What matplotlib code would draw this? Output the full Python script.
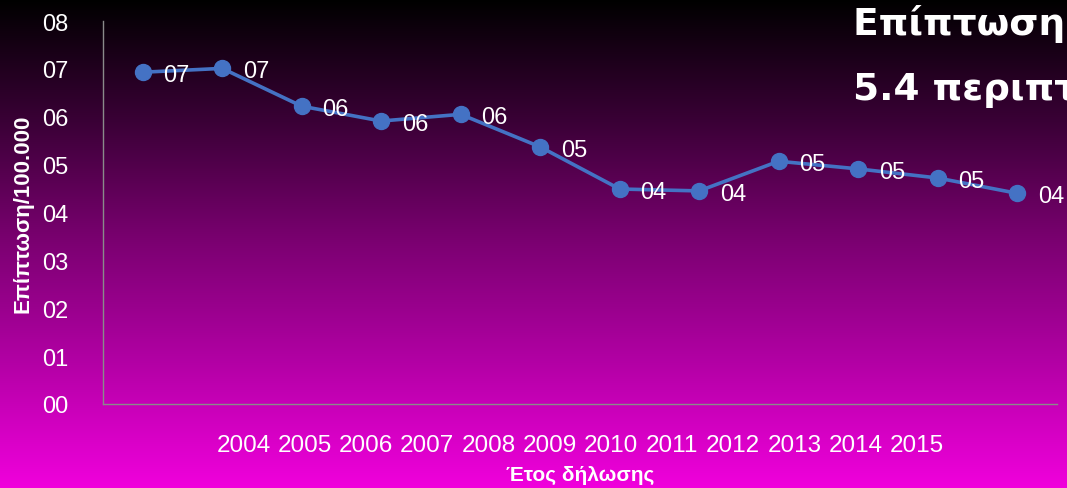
import matplotlib.pyplot as plt
import numpy as np
from matplotlib.colors import LinearSegmentedColormap

# Δεδομένα
years = [2004, 2005, 2006, 2007, 2008, 2009, 2010, 2011, 2012, 2013, 2014, 2015]
incidence = [6.93, 7.01, 6.22, 5.91, 6.05, 5.37, 4.49, 4.45, 5.07, 4.91, 4.72, 4.40]
y_ticks = [0, 1, 2, 3, 4, 5, 6, 7, 8]

plt.rcParams['font.family'] = ['Liberation Sans', 'DejaVu Sans']

fig = plt.figure(figsize=(10.67, 4.89), dpi=100)

# φόντο με διαβάθμιση (μαύρο -> ματζέντα)
bg = fig.add_axes([0, 0, 1, 1], zorder=0)
cmap = LinearSegmentedColormap.from_list('bg', ['#000000', '#3a0036', '#7c0072', '#b400a6', '#f000dc'])
grad = np.linspace(0, 1, 256).reshape(-1, 1)
bg.imshow(grad, aspect='auto', cmap=cmap, extent=[0, 1, 0, 1], origin='upper')
bg.axis('off')

ax = fig.add_axes([0.0965, 0.172, 0.894, 0.783], zorder=1)
ax.patch.set_alpha(0)
ax.plot(years, incidence, color='#4472C4', lw=2.6, marker='o', markersize=11.5, zorder=3)
for x, v in zip(years, incidence):
    ax.annotate(f'{v:02.0f}', (x, v), xytext=(15, -2), textcoords='offset points',
                va='center', ha='left', color='white', fontsize=17, annotation_clip=False)

ax.set_xlim(2003.5, 2015.5)
ax.set_ylim(0, 8)
ax.set_yticks(y_ticks)
ax.set_yticklabels([f'{t:02d}' for t in y_ticks])
ax.set_xticks([])
ax.tick_params(axis='y', length=0, pad=25, labelcolor='white', labelsize=17)
for s in ['top', 'right']:
    ax.spines[s].set_visible(False)
for s in ['left', 'bottom']:
    ax.spines[s].set_color('#8a8a8a')
    ax.spines[s].set_linewidth(1)
ax.set_ylabel('Επίπτωση/100.000', color='white', fontsize=16, fontweight='bold', labelpad=6)

# οι ετικέτες των ετών δεν ευθυγραμμίζονται με τα σημεία
ax2 = ax.twiny()
ax2.xaxis.set_ticks_position('bottom')
ax2.xaxis.set_label_position('bottom')
ax2.set_xlim(2001.7, 2017.29)
ax2.set_xticks(years)
ax2.set_xticklabels([str(y) for y in years])
ax2.tick_params(axis='x', length=0, pad=22, labelcolor='white', labelsize=17.5)
for s in ax2.spines.values():
    s.set_visible(False)
ax2.set_xlabel('Έτος δήλωσης', color='white', fontsize=15, fontweight='bold', labelpad=6)

fig.text(853 / 1067, 1 - 35 / 489, 'Επίπτωση (2015):', color='white', fontsize=27,
         fontweight='bold', family='DejaVu Sans', va='baseline', ha='left')
fig.text(853 / 1067, 1 - 100 / 489, '5.4 περιπτώσεις/100.000', color='white', fontsize=27,
         fontweight='bold', family='DejaVu Sans', va='baseline', ha='left')

plt.savefig('out.png', dpi=100)
